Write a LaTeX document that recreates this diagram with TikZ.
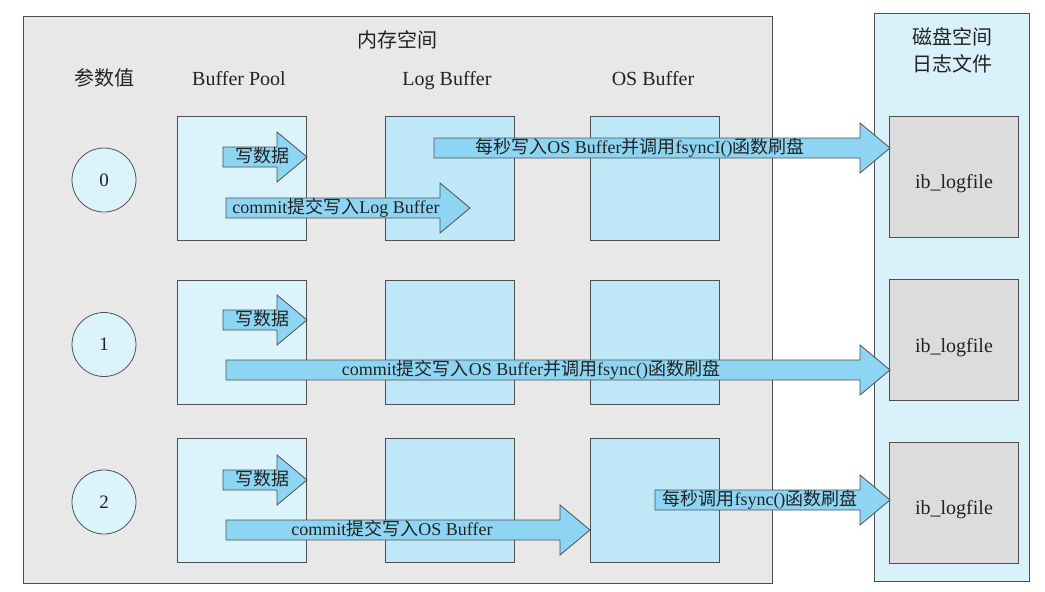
\documentclass[tikz,border=0pt]{standalone}
\usepackage{fontspec}
\setmainfont{Liberation Serif}
\newfontfamily\cjk{Noto Sans CJK SC}
\usetikzlibrary{positioning}

\definecolor{memgray}{HTML}{E8E8E8}
\definecolor{poolblue}{HTML}{DBF3FB}
\definecolor{bufblue}{HTML}{BEE8F8}
\definecolor{diskblue}{HTML}{D8F1FA}
\definecolor{filegray}{HTML}{DCDCDC}
\definecolor{arrowblue}{HTML}{8DD5F2}
\definecolor{linegray}{HTML}{505050}
\definecolor{txt}{HTML}{222222}

\tikzset{
	area/.style={draw=linegray, line width=0.8pt, inner sep=0pt, anchor=north west},
	box/.style={draw=linegray, line width=0.8pt, inner sep=0pt, minimum width=129pt, minimum height=124pt},
	poolbox/.style={box, fill=poolblue},
	bufbox/.style={box, fill=bufblue},
	filebox/.style={box, fill=filegray, minimum height=121pt},
	param/.style={circle, draw=linegray, line width=0.8pt, fill=poolblue, minimum size=64pt, inner sep=0pt, font=\fontsize{19}{22}\selectfont, text=txt},
	head/.style={font=\fontsize{20}{24}\selectfont, text=txt, inner sep=0pt, text height=14pt, text depth=4pt},
	filetext/.style={font=\fontsize{20}{24}\selectfont, text=txt, inner sep=0pt, text height=14pt, text depth=4pt},
	arrowbody/.style={draw=linegray, fill=arrowblue, line width=0.8pt, line join=miter},
	arrowtext/.style={font=\fontsize{18}{20}\selectfont, text=txt, inner sep=0pt, text height=12pt, text depth=4pt}
}

% name, tail x, tip x, y, text x, text
\newcommand\fatarrow[6]{%
	\draw[arrowbody] (#2,#4-10) -- (#3-30,#4-10) -- (#3-30,#4-25) -- (#3,#4)
		-- (#3-30,#4+25) -- (#3-30,#4+10) -- (#2,#4+10) -- cycle;
	\node[arrowtext] (#1) at (#5,#4+1) {#6};}

\begin{document}
\begin{tikzpicture}[x=1pt, y=-1pt]
	\useasboundingbox[fill=white] (0,0) rectangle (1045,592);

	% areas
	\node[area, fill=memgray, minimum width=749pt, minimum height=567pt] (mem) at (23,16) {};
	\node[area, fill=diskblue, minimum width=155pt, minimum height=568pt] (disk) at (874,13) {};

	% headings
	\node[head] (memtitle) at (397,42) {\cjk 内存空间};
	\node[head] (disktitle) at (952,39) {\cjk 磁盘空间};
	\node[head] (disktitle2) at (952,66) {\cjk 日志文件};
	\node[head] (paramtitle) at (104,80) {\cjk 参数值};
	\node[head] (pooltitle) at (239,80) {Buffer Pool};
	\node[head] (logtitle) at (447,80) {Log Buffer};
	\node[head] (ostitle) at (653,80) {OS Buffer};

	% rows
	\foreach \i/\y/\fy in {0/178/176.5, 1/342.5/340, 2/500/502.5} {
		\node[param] (p\i) at (104,\y+2) {\i};
		\node[poolbox] (bp\i) at (241.5,\y) {};
		\node[bufbox] (lb\i) at (450,\y) {};
		\node[bufbox] (os\i) at (654.5,\y) {};
		\node[filebox] (lf\i) at (954,\fy) {};
		\node[filetext] (lft\i) at (954,\fy+7) {ib\_logfile};
	}

	% row 0
	\fatarrow{a0w}{223}{307}{157}{262}{\cjk 写数据}
	\fatarrow{a0c}{226}{470}{208}{336}{commit{\cjk 提交写入}Log Buffer}
	\fatarrow{a0s}{434}{890}{148}{640}{{\cjk 每秒写入}OS Buffer{\cjk 并调用}fsyncI(){\cjk 函数刷盘}}

	% row 1
	\fatarrow{a1w}{223}{307}{320}{262}{\cjk 写数据}
	\fatarrow{a1c}{226}{890}{370}{531}{commit{\cjk 提交写入}OS Buffer{\cjk 并调用}fsync(){\cjk 函数刷盘}}

	% row 2
	\fatarrow{a2w}{223}{307}{480}{262}{\cjk 写数据}
	\fatarrow{a2c}{226}{590}{530}{392}{commit{\cjk 提交写入}OS Buffer}
	\fatarrow{a2s}{655}{890}{500}{760}{{\cjk 每秒调用}fsync(){\cjk 函数刷盘}}
\end{tikzpicture}
\end{document}
